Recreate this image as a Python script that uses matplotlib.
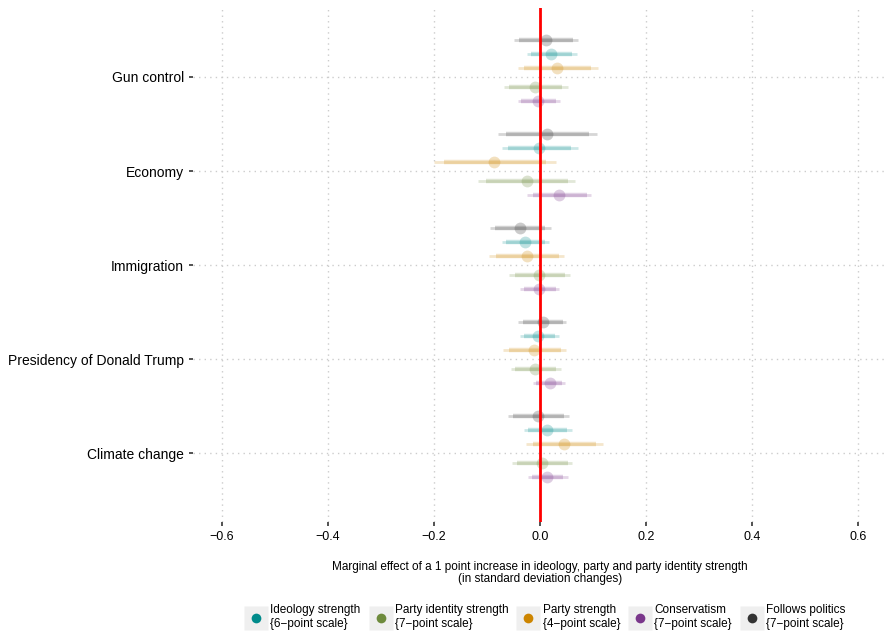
import numpy as np
import matplotlib.pyplot as plt
from matplotlib.lines import Line2D

plt.rcParams['font.family'] = ['Liberation Sans', 'DejaVu Sans']

# Data
categories = ['Gun control', 'Economy', 'Immigration',
              'Presidency of Donald Trump', 'Climate change']

series = ['Follows politics', 'Ideology strength', 'Party strength',
          'Party identity strength', 'Conservatism']
scale_notes = {'Ideology strength': '{6\u2212point scale}',
               'Party identity strength': '{7\u2212point scale}',
               'Party strength': '{4\u2212point scale}',
               'Conservatism': '{7\u2212point scale}',
               'Follows politics': '{7\u2212point scale}'}

est = {
    'Follows politics':        [0.012, 0.014, -0.038, 0.005, -0.004],
    'Ideology strength':       [0.021, -0.001, -0.028, -0.003, 0.014],
    'Party strength':          [0.033, -0.086, -0.025, -0.011, 0.046],
    'Party identity strength': [-0.009, -0.025, -0.001, -0.009, 0.004],
    'Conservatism':            [-0.003, 0.036, -0.001, 0.018, 0.014],
}
inner_lo = {
    'Follows politics':        [-0.039, -0.065, -0.085, -0.033, -0.051],
    'Ideology strength':       [-0.017, -0.060, -0.065, -0.031, -0.023],
    'Party strength':          [-0.030, -0.182, -0.083, -0.058, -0.014],
    'Party identity strength': [-0.058, -0.101, -0.048, -0.047, -0.044],
    'Conservatism':            [-0.035, -0.014, -0.031, -0.008, -0.016],
}
inner_hi = {
    'Follows politics':        [0.062, 0.092, 0.009, 0.043, 0.045],
    'Ideology strength':       [0.061, 0.059, 0.009, 0.028, 0.051],
    'Party strength':          [0.097, 0.011, 0.036, 0.040, 0.105],
    'Party identity strength': [0.041, 0.053, 0.047, 0.031, 0.052],
    'Conservatism':            [0.030, 0.088, 0.030, 0.042, 0.043],
}
outer_lo = {
    'Follows politics':        [-0.049, -0.080, -0.094, -0.041, -0.061],
    'Ideology strength':       [-0.024, -0.072, -0.072, -0.038, -0.030],
    'Party strength':          [-0.041, -0.201, -0.097, -0.069, -0.026],
    'Party identity strength': [-0.068, -0.117, -0.058, -0.055, -0.053],
    'Conservatism':            [-0.041, -0.024, -0.038, -0.013, -0.023],
}
outer_hi = {
    'Follows politics':        [0.072, 0.107, 0.020, 0.050, 0.055],
    'Ideology strength':       [0.069, 0.071, 0.017, 0.036, 0.060],
    'Party strength':          [0.109, 0.030, 0.046, 0.049, 0.118],
    'Party identity strength': [0.052, 0.067, 0.057, 0.039, 0.061],
    'Conservatism':            [0.037, 0.097, 0.036, 0.048, 0.053],
}

colors = {'Ideology strength': '#008B8B',
          'Party identity strength': '#6E8B3D',
          'Party strength': '#CD8500',
          'Conservatism': '#7A378B',
          'Follows politics': '#333333'}
# vertical dodge of each series inside a category row
offsets = {'Follows politics': -0.394, 'Ideology strength': -0.245,
           'Party strength': -0.096, 'Party identity strength': 0.102,
           'Conservatism': 0.251}
legend_order = ['Ideology strength', 'Party identity strength', 'Party strength',
                'Conservatism', 'Follows politics']

fig = plt.figure(figsize=(8.91, 6.35), dpi=100)
ax = fig.add_axes([0.2166, 0.178, 0.7789, 0.809])

ypos = np.arange(len(categories))
for s in series:
    y = ypos + offsets[s]
    c = colors[s]
    ax.hlines(y, outer_lo[s], outer_hi[s], color=c, lw=2, alpha=0.2, zorder=2)
    ax.hlines(y, inner_lo[s], inner_hi[s], color=c, lw=3.2, alpha=0.22, zorder=2)
    ax.plot(est[s], y, 'o', color=c, ms=8.5, alpha=0.25, mec='none', zorder=3)

ax.axvline(0, color='#ff0000', lw=2, zorder=4)

ax.set_xlim(-0.655, 0.655)
ax.set_ylim(len(categories) - 1 + 0.73, -0.73)
ax.set_xticks([-0.6, -0.4, -0.2, 0.0, 0.2, 0.4, 0.6])
ax.set_xticklabels(['\u22120.6', '\u22120.4', '\u22120.2', '0.0', '0.2', '0.4', '0.6'])
ax.set_yticks(ypos)
ax.set_yticklabels(categories)
ax.tick_params(axis='y', labelsize=10, length=3, width=1.2, color='#333333')
ax.tick_params(axis='x', labelsize=9, length=3, width=1.2, color='#333333')
ax.grid(True, color='#cccccc', linestyle=(0, (1, 3)), lw=1)
ax.set_axisbelow(True)
for sp in ax.spines.values():
    sp.set_visible(False)

ax.set_xlabel('Marginal effect of a 1 point increase in ideology, party and party identity strength\n'
              '(in standard deviation changes)', fontsize=8.5, labelpad=13, linespacing=1.0)

handles = []
labels = []
for s in legend_order:
    bg = Line2D([], [], marker='s', ms=17, color='#efefef', ls='', mec='none')
    dot = Line2D([], [], marker='o', ms=7, color=colors[s], ls='', mec='none')
    handles.append((bg, dot))
    labels.append(s + '\n' + scale_notes[s])
fig.legend(handles, labels, loc='center', bbox_to_anchor=(0.613, 0.028), ncol=5,
           frameon=False, fontsize=8.5, handlelength=1.6, handletextpad=0.4,
           columnspacing=0.9, labelspacing=0.2)

fig.savefig('out.png', dpi=100)
